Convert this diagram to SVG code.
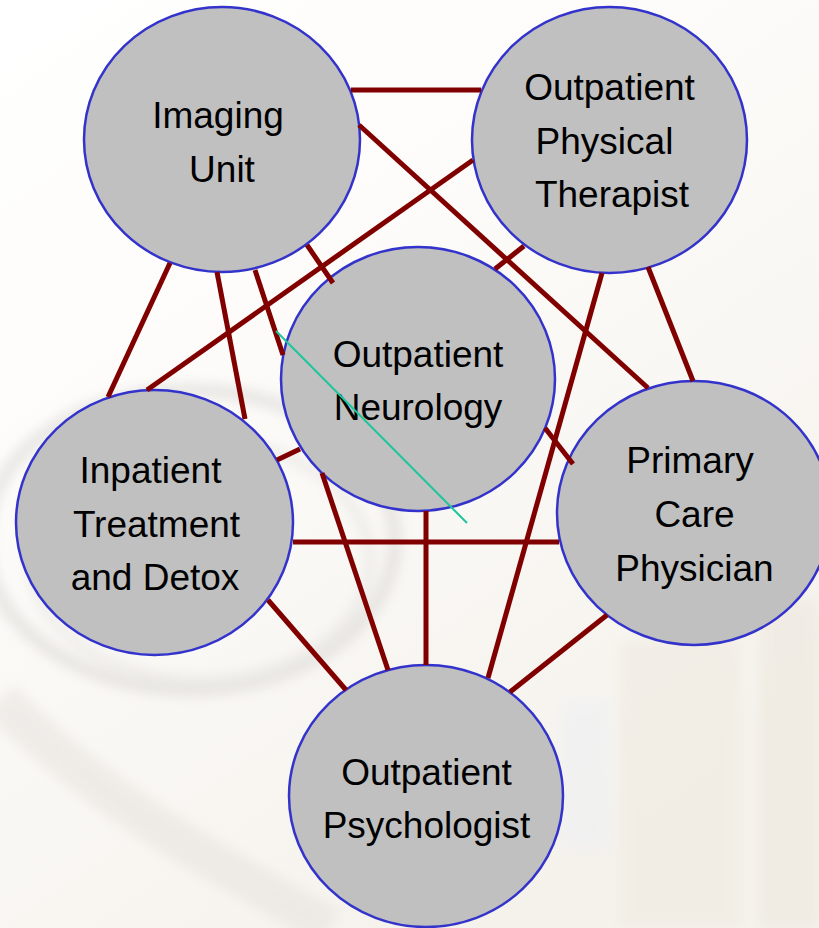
<svg xmlns="http://www.w3.org/2000/svg" width="819" height="928" viewBox="0 0 819 928">
  <defs>
    <style>
      .node { fill: #c0c0c0; stroke: #3333cc; stroke-width: 2.5; }
      .label { font-family: "Liberation Sans", Arial, sans-serif; font-size: 37px; fill: #000000; text-anchor: middle; }
      .conn { stroke: #800000; stroke-width: 5; fill: none; stroke-linecap: butt; }
      .stray { stroke: #1cc69c; stroke-width: 2; fill: none; }
    </style>
    <linearGradient id="bg" x1="0" y1="0" x2="0.6" y2="1">
      <stop offset="0" stop-color="#ffffff"/>
      <stop offset="0.35" stop-color="#fdfcfa"/>
      <stop offset="1" stop-color="#f5f2ec"/>
    </linearGradient>
    <filter id="soft" x="-20%" y="-20%" width="140%" height="140%">
      <feGaussianBlur stdDeviation="6"/>
    </filter>
  </defs>

  <!-- faint photographic background -->
  <g id="background">
    <rect x="0" y="0" width="819" height="928" fill="url(#bg)"/>
    <g filter="url(#soft)" fill="none" opacity="0.55">
      <ellipse cx="190" cy="540" rx="205" ry="150" stroke="#d9d7d4" stroke-width="14"/>
      <ellipse cx="200" cy="560" rx="170" ry="120" stroke="#e4e2df" stroke-width="10"/>
      <path d="M0 700 C120 820 250 880 330 928" stroke="#e6e3de" stroke-width="40"/>
      <rect x="620" y="640" width="120" height="288" fill="#efe9df" stroke="none"/>
      <rect x="760" y="600" width="59" height="328" fill="#ece6dc" stroke="none"/>
      <rect x="560" y="700" width="50" height="150" fill="#eef0f4" stroke="none"/>
    </g>
  </g>

  <g id="node-imaging">
    <ellipse class="node" cx="222" cy="139.5" rx="138" ry="132.5"/>
    <text class="label" x="218" y="128">Imaging</text>
    <text class="label" x="222" y="182">Unit</text>
  </g>

  <g id="node-physical-therapist">
    <ellipse class="node" cx="609.5" cy="140" rx="137.5" ry="133"/>
    <text class="label" x="609.5" y="100">Outpatient</text>
    <text class="label" x="604.5" y="154">Physical</text>
    <text class="label" x="612" y="207">Therapist</text>
  </g>

  <g id="node-neurology">
    <ellipse class="node" cx="418" cy="379" rx="137" ry="132"/>
    <text class="label" x="418" y="367">Outpatient</text>
    <text class="label" x="418" y="420">Neurology</text>
  </g>

  <g id="node-inpatient">
    <ellipse class="node" cx="154.5" cy="522.5" rx="138.5" ry="132.5"/>
    <text class="label" x="150.5" y="483">Inpatient</text>
    <text class="label" x="156.5" y="537">Treatment</text>
    <text class="label" x="155" y="590">and Detox</text>
  </g>

  <g id="node-primary-care">
    <ellipse class="node" cx="694" cy="513" rx="137" ry="132"/>
    <text class="label" x="690" y="473">Primary</text>
    <text class="label" x="694.5" y="527">Care</text>
    <text class="label" x="694.5" y="581">Physician</text>
  </g>

  <g id="node-psychologist">
    <ellipse class="node" cx="426" cy="796" rx="137" ry="131"/>
    <text class="label" x="426.5" y="785">Outpatient</text>
    <text class="label" x="426.5" y="838">Psychologist</text>
  </g>

  <g id="connectors">
    <line class="conn" x1="351" y1="90" x2="481" y2="90"/>
    <line class="conn" x1="359" y1="125" x2="648" y2="388"/>
    <line class="conn" x1="473" y1="160" x2="147" y2="390"/>
    <line class="conn" x1="307" y1="245" x2="333" y2="283"/>
    <line class="conn" x1="170" y1="263" x2="108" y2="397"/>
    <line class="conn" x1="217" y1="272" x2="245" y2="419"/>
    <line class="conn" x1="255" y1="270" x2="283" y2="355"/>
    <line class="conn" x1="322" y1="473" x2="388" y2="670"/>
    <line class="conn" x1="602" y1="273" x2="488" y2="678"/>
    <line class="conn" x1="648" y1="267" x2="693" y2="381"/>
    <line class="conn" x1="524" y1="246" x2="495" y2="269"/>
    <line class="conn" x1="426" y1="511" x2="426" y2="665"/>
    <line class="conn" x1="293" y1="542" x2="559" y2="542"/>
    <line class="conn" x1="268" y1="600" x2="346" y2="690"/>
    <line class="conn" x1="607" y1="615" x2="510" y2="692"/>
    <line class="conn" x1="545" y1="428" x2="573" y2="464"/>
    <line class="conn" x1="277" y1="460" x2="300" y2="449"/>
  </g>

  <g id="stray-line">
    <line class="stray" x1="276" y1="331" x2="467" y2="523"/>
  </g>
</svg>
